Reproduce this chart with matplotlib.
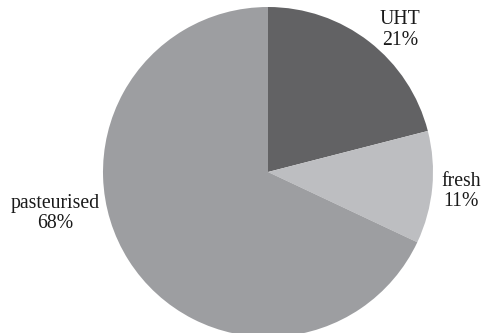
import matplotlib
matplotlib.use("Agg")
from matplotlib import pyplot as plt

# milk types share
labels = ["UHT", "fresh", "pasteurised"]
shares = [21, 11, 68]
colors = ["#626264", "#bdbec1", "#9d9ea1"]

plt.rcParams['font.family'] = ['Liberation Serif', 'DejaVu Serif']

fig = plt.figure(figsize=(4.82, 3.33), dpi=100)
# pie centre at about (268, 172) px, radius 165 px
ax = fig.add_axes([(268 - 165) / 482, (333 - 172 - 165) / 333, 330 / 482, 330 / 333])

ax.pie(shares, colors=colors, startangle=90, counterclock=False,
       radius=1.0, wedgeprops=dict(linewidth=0))
ax.set_xlim(-1, 1)
ax.set_ylim(-1, 1)
ax.set_aspect('equal')
ax.axis('off')

# label anchors in data units (pie radius = 1)
label_pos = [(0.80, 0.86), (1.17, -0.12), (-1.29, -0.25)]
for name, val, (x, y) in zip(labels, shares, label_pos):
    ax.text(x, y, "%s\n%d%%" % (name, val), ha='center', va='center',
            fontsize=14.2, color='#1a1a1a', linespacing=1.1, clip_on=False)

fig.savefig("out.png", dpi=100)
